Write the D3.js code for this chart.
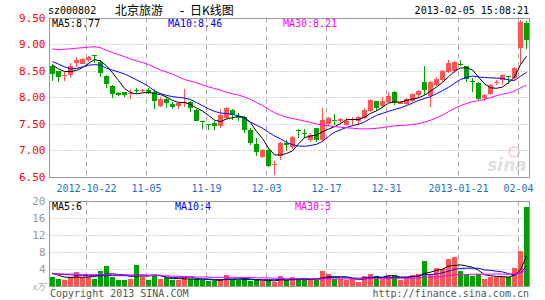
<!DOCTYPE html>
<html><head><meta charset="utf-8">
<script src="https://cdn.jsdelivr.net/npm/d3@7"></script>
<style>body{margin:0;background:#fff}svg{display:block}</style>
</head><body><svg id="c" width="545" height="300"></svg>
<script>
const dates = ["2012-10-12","2012-10-15","2012-10-16","2012-10-17","2012-10-18","2012-10-19","2012-10-22","2012-10-23","2012-10-24","2012-10-25",
"2012-10-26","2012-10-29","2012-10-30","2012-10-31","2012-11-01","2012-11-02","2012-11-05","2012-11-06","2012-11-07","2012-11-08",
"2012-11-09","2012-11-12","2012-11-13","2012-11-14","2012-11-15","2012-11-16","2012-11-19","2012-11-20","2012-11-21","2012-11-22",
"2012-11-23","2012-11-26","2012-11-27","2012-11-28","2012-11-29","2012-11-30","2012-12-03","2012-12-04","2012-12-05","2012-12-06",
"2012-12-07","2012-12-10","2012-12-11","2012-12-12","2012-12-13","2012-12-14","2012-12-17","2012-12-18","2012-12-19","2012-12-20",
"2012-12-21","2012-12-24","2012-12-25","2012-12-26","2012-12-27","2012-12-28","2012-12-31","2013-01-04","2013-01-07","2013-01-08",
"2013-01-09","2013-01-10","2013-01-11","2013-01-14","2013-01-15","2013-01-16","2013-01-17","2013-01-18","2013-01-21","2013-01-22",
"2013-01-23","2013-01-24","2013-01-25","2013-01-28","2013-01-29","2013-01-30","2013-01-31","2013-02-01","2013-02-04","2013-02-05"];
const open = [8.58,8.49,8.39,8.41,8.64,8.63,8.70,8.79,8.66,8.39, 8.20,8.07,8.09,8.05,8.13,8.11,8.14,8.09,7.83,7.97,
7.87,7.83,7.88,7.91,7.76,7.55,7.49,7.51,7.46,7.60, 7.76,7.63,7.62,7.37,7.12,6.87,7.00,6.73,6.88,7.14,
7.05,7.37,7.33,7.19,7.41,7.18,7.49,7.56,7.54,7.48, 7.57,7.55,7.60,7.74,7.92,7.83,7.90,8.10,7.87,7.87,
7.93,8.04,8.29,8.01,8.23,8.32,8.48,8.49,8.62,8.58, 8.31,8.27,7.98,8.06,8.26,8.32,8.39,8.36,8.92,9.39];
const high = [8.62,8.50,8.48,8.64,8.75,8.73,8.78,8.80,8.70,8.42, 8.23,8.10,8.10,8.15,8.17,8.15,8.17,8.15,8.00,8.00,
7.90,7.90,8.15,7.92,7.78,7.55,7.49,7.54,7.78,7.81, 7.77,7.70,7.64,7.41,7.22,7.02,7.02,6.80,7.15,7.18,
7.27,7.39,7.39,7.32,7.42,7.80,7.62,7.68,7.60,7.60, 7.63,7.65,7.79,7.96,7.93,8.00,8.09,8.12,7.92,7.98,
8.07,8.14,8.58,8.31,8.38,8.51,8.70,8.68,8.70,8.59, 8.35,8.29,8.05,8.24,8.32,8.43,8.39,8.56,9.45,9.44];
const low = [8.31,8.28,8.31,8.35,8.56,8.62,8.66,8.65,8.37,8.17, 7.99,8.01,8.00,7.97,8.07,8.10,8.05,7.78,7.82,7.80,
7.78,7.78,7.81,7.72,7.54,7.39,7.37,7.38,7.42,7.58, 7.56,7.55,7.32,7.10,6.89,6.85,6.67,6.52,6.82,6.99,
7.02,7.23,7.23,7.16,7.15,7.15,7.46,7.47,7.49,7.45, 7.48,7.48,7.58,7.72,7.73,7.79,7.88,7.85,7.86,7.85,
7.90,7.98,8.04,7.82,8.20,8.29,8.45,8.46,8.58,8.29, 8.10,7.94,7.93,8.04,8.22,8.23,8.24,8.32,8.63,8.91];
const close = [8.44,8.37,8.41,8.59,8.70,8.71,8.75,8.78,8.46,8.24, 8.05,8.03,8.03,8.07,8.12,8.14,8.08,7.92,7.97,7.89,
7.82,7.89,7.91,7.79,7.55,7.54,7.48,7.45,7.66,7.79, 7.66,7.62,7.37,7.14,6.96,7.00,6.70,6.74,7.13,7.10,
7.25,7.36,7.32,7.29,7.18,7.57,7.61,7.55,7.58,7.55, 7.58,7.62,7.76,7.94,7.79,7.92,8.01,7.89,7.90,7.96,
8.05,8.12,8.14,8.29,8.34,8.49,8.65,8.66,8.61,8.34, 8.30,7.96,8.04,8.23,8.29,8.42,8.38,8.54,9.42,9.08];
const volume = [2.1,1.5,1.2,1.9,3.2,1.9,1.9,1.6,3.5,4.6, 2.1,1.2,1.3,1.6,4.9,2.1,1.2,2.3,1.6,1.8,
1.2,1.2,2.0,1.5,1.5,1.2,1.0,1.0,1.5,2.5, 1.5,1.2,1.5,1.0,1.5,1.0,1.0,0.9,2.3,1.2,
2.0,1.5,1.5,1.6,1.2,3.3,2.7,1.5,1.6,1.2, 1.6,0.9,2.3,2.8,2.3,1.5,2.5,2.5,1.2,2.0,
2.5,2.7,5.8,2.7,4.1,3.8,6.3,6.8,3.3,2.8, 2.3,2.7,1.6,2.1,2.0,2.1,2.0,4.1,8.2,18.4];
// moving-average values visible before a full window exists
const ma5Head = [8.60,8.53,8.48,8.48];
const ma10Head = [8.67,8.62,8.57,8.53,8.54,8.57,8.60,8.61,8.60];
const ma30Head = [8.91,8.89,8.90,8.91,8.92,8.93,8.94,8.95,8.93,8.88,8.84,8.80,8.76,8.72,8.68,8.65,8.61,8.56,8.51,8.47,8.43,8.38,8.33,8.30,8.27,8.23,8.19,8.16,8.13];
const vma5Head = [2.9,2.4,2.0,1.9];
const vma10Head = [2.8,2.7,2.6,2.5,2.4,2.4,2.3,2.3,2.3];
const vma30Head = [2.7,2.7,2.7,2.7,2.7,2.6,2.6,2.6,2.6,2.6,2.5,2.5,2.5,2.5,2.4,2.4,2.4,2.3,2.3,2.3,2.2,2.2,2.1,2.1,2.0,2.0,2.0,1.9,1.9];
const priceTicks = [6.5,7.0,7.5,8.0,8.5,9.0,9.5];
const volTicks = [4,8,12,16,20];
const xTickDates = ["2012-10-22","2012-11-05","2012-11-19","2012-12-03","2012-12-17","2012-12-31","2013-01-21","2013-02-04"];
const xTickLabels = ["2012-10-22","11-05","11-19","12-03","12-17","12-31","2013-01-21","02-04"];
const priceMaLabels = ["MA5:8.77","MA10:8.46","MA30:8.21"];
const volMaLabels = ["MA5:6","MA10:4","MA30:3"];
const maColors = ["#000000","#0000ff","#ff00ff"];
const stockCode = "sz000802", titleName = "北京旅游", titleDash = "-", titleKind = "日K线图", timeText = "2013-02-05 15:08:21";

function movingAvg(arr, n, head){
  return arr.map((v,i)=> i < n-1 ? head[i] : d3.mean(arr.slice(i-n+1, i+1)));
}

const svg = d3.select("#c");
const L = 49.5, R = 529.5;
const x = d3.scaleBand().domain(dates).range([L, R]).paddingInner(1/6).paddingOuter(1/12);
const bw = x.bandwidth();
const cx = d => x(d) + bw/2;
const y = d3.scaleLinear().domain([6.5, 9.5]).range([176.5, 17.5]);
const yv = d3.scaleLinear().domain([0, 20]).range([285.5, 200.5]);
const mono = "'DejaVu Sans Mono', monospace";
const cjk = "'Noto Sans CJK SC', sans-serif";
const RED = "#ff5555", GREEN = "#00a000";

const rows = dates.map((d,i)=>({d, o:open[i], h:high[i], l:low[i], c:close[i], v:volume[i]}));

// gridlines
const gPrice = svg.append("g");
gPrice.selectAll("line.h").data(priceTicks.slice(1,-1)).join("line")
  .attr("x1", L).attr("x2", R).attr("y1", d=>Math.round(y(d))+0.5).attr("y2", d=>Math.round(y(d))+0.5)
  .attr("stroke", "#aaa").attr("stroke-dasharray", "1,2");
gPrice.selectAll("line.v").data(xTickDates).join("line")
  .attr("x1", d=>x(d)+0.5).attr("x2", d=>x(d)+0.5).attr("y1", y(9.5)).attr("y2", y(6.5))
  .attr("stroke", "#aaa").attr("stroke-dasharray", "5,4");
const gVol = svg.append("g");
gVol.selectAll("line.h").data(volTicks.slice(0,-1)).join("line")
  .attr("x1", L).attr("x2", R).attr("y1", d=>Math.round(yv(d))+0.5).attr("y2", d=>Math.round(yv(d))+0.5)
  .attr("stroke", "#aaa").attr("stroke-dasharray", "1,2");
gVol.selectAll("line.v").data(xTickDates).join("line")
  .attr("x1", d=>x(d)+0.5).attr("x2", d=>x(d)+0.5).attr("y1", yv(20)).attr("y2", yv(0))
  .attr("stroke", "#aaa").attr("stroke-dasharray", "5,4");

// watermark
const wm = svg.append("g").attr("opacity", 0.45);
wm.append("text").attr("x", 507).attr("y", 171).attr("text-anchor","middle")
  .attr("font-family","'DejaVu Sans', sans-serif").attr("font-style","italic").attr("font-weight","bold")
  .attr("font-size", 17).attr("fill", "#bbb").text("sina");
wm.append("circle").attr("cx", 514).attr("cy", 152).attr("r", 5).attr("fill","none").attr("stroke","#f0a0a0").attr("stroke-width",2);

// candles
const gc = svg.append("g").attr("shape-rendering","crispEdges");
gc.selectAll("rect.w").data(rows).join("rect")
  .attr("x", d=>Math.round(cx(d.d)-0.5)).attr("width", 1)
  .attr("y", d=>y(d.h)).attr("height", d=>Math.max(1, y(d.l)-y(d.h)))
  .attr("fill", d=> d.c >= d.o ? RED : GREEN);
gc.selectAll("rect.b").data(rows).join("rect")
  .attr("x", d=>x(d.d)).attr("width", bw)
  .attr("y", d=>y(Math.max(d.o,d.c))).attr("height", d=>Math.max(1, Math.abs(y(d.o)-y(d.c))))
  .attr("fill", d=> d.c >= d.o ? RED : GREEN);

// volume bars
gc.selectAll("rect.v").data(rows).join("rect")
  .attr("x", d=>x(d.d)).attr("width", bw)
  .attr("y", d=>yv(d.v)).attr("height", d=>yv(0)-yv(d.v))
  .attr("fill", d=> d.c >= d.o ? RED : GREEN);

// MA lines
const maP = [movingAvg(close,5,ma5Head), movingAvg(close,10,ma10Head), movingAvg(close,30,ma30Head)];
const maV = [movingAvg(volume,5,vma5Head), movingAvg(volume,10,vma10Head), movingAvg(volume,30,vma30Head)];
const lineP = d3.line().x((v,i)=>cx(dates[i])).y(v=>y(v));
const lineV = d3.line().x((v,i)=>cx(dates[i])).y(v=>yv(v));
maP.forEach((s,k)=> svg.append("path").attr("d", lineP(s)).attr("fill","none").attr("stroke", maColors[k]).attr("stroke-width",1));
maV.forEach((s,k)=> svg.append("path").attr("d", lineV(s)).attr("fill","none").attr("stroke", maColors[k]).attr("stroke-width",1));

// borders
[[y(9.5), y(6.5)], [yv(20), yv(0)]].forEach(([t,b])=>{
  svg.append("rect").attr("x", L).attr("y", Math.round(t)+0.5).attr("width", R-L).attr("height", Math.round(b)-Math.round(t))
    .attr("fill","none").attr("stroke","#999").attr("stroke-width",1).attr("shape-rendering","crispEdges");
});

// axes
const axP = d3.axisLeft(y).tickValues(priceTicks).tickFormat(d3.format(".2f")).tickSize(0).tickPadding(4);
const gAxP = svg.append("g").attr("transform", `translate(${L},0)`).call(axP);
gAxP.select(".domain").remove();
gAxP.selectAll("text").attr("fill","#ff0000").attr("font-family", mono).attr("font-size", 11);
const axV = d3.axisLeft(yv).tickValues(volTicks).tickFormat(d3.format("d")).tickSize(0).tickPadding(4);
const gAxV = svg.append("g").attr("transform", `translate(${L},0)`).call(axV);
gAxV.select(".domain").remove();
gAxV.selectAll("text").attr("fill","#999").attr("font-family", mono).attr("font-size", 11);
svg.append("text").attr("x", L-4).attr("y", 290).attr("text-anchor","end").attr("fill","#aaa")
  .attr("font-family", cjk).attr("font-style","italic").attr("font-size",9).text("x万");

const axX = d3.axisBottom(x).tickValues(xTickDates).tickFormat((d,i)=>xTickLabels[i]).tickSize(0).tickPadding(0);
const gAxX = svg.append("g").attr("transform", "translate(0,185)").call(axX);
gAxX.select(".domain").remove();
gAxX.selectAll(".tick").attr("transform", d=>`translate(${x(d)+0.5},0)`);
gAxX.selectAll("text").attr("fill","#1c6fc8").attr("font-family", mono).attr("font-size", 10).attr("dy","0.71em");

// header
svg.append("text").attr("x", 48).attr("y", 14).attr("font-family", mono).attr("font-size", 10).attr("fill","#000").text(stockCode);
svg.append("text").attr("x", 115).attr("y", 15).attr("font-family", cjk).attr("font-size", 12).attr("fill","#000").text(titleName);
svg.append("text").attr("x", 182).attr("y", 15).attr("text-anchor","middle").attr("font-family", mono).attr("font-size", 12).attr("fill","#000").text(titleDash);
svg.append("text").attr("x", 190).attr("y", 15).attr("font-family", cjk).attr("font-size", 12).attr("fill","#000").text(titleKind);
svg.append("text").attr("x", 529).attr("y", 14).attr("text-anchor","end").attr("font-family", mono).attr("font-size", 10).attr("fill","#000").text(timeText);

// MA labels
const maLabX = [52, 168, 283];
priceMaLabels.forEach((t,k)=> svg.append("text").attr("x", maLabX[k]).attr("y", 27).attr("font-family", mono).attr("font-size",10).attr("fill", maColors[k]).text(t));
const vLabX = [52, 175, 295];
volMaLabels.forEach((t,k)=> svg.append("text").attr("x", vLabX[k]).attr("y", 210).attr("font-family", mono).attr("font-size",10).attr("fill", maColors[k]).text(t));

// footer
svg.append("text").attr("x", 50).attr("y", 297).attr("font-family", mono).attr("font-size", 10).attr("fill","#555").text("Copyright 2013 SINA.COM");
svg.append("text").attr("x", 529).attr("y", 297).attr("text-anchor","end").attr("font-family", mono).attr("font-size", 10).attr("fill","#555").text("http://finance.sina.com.cn");
</script></body></html>
